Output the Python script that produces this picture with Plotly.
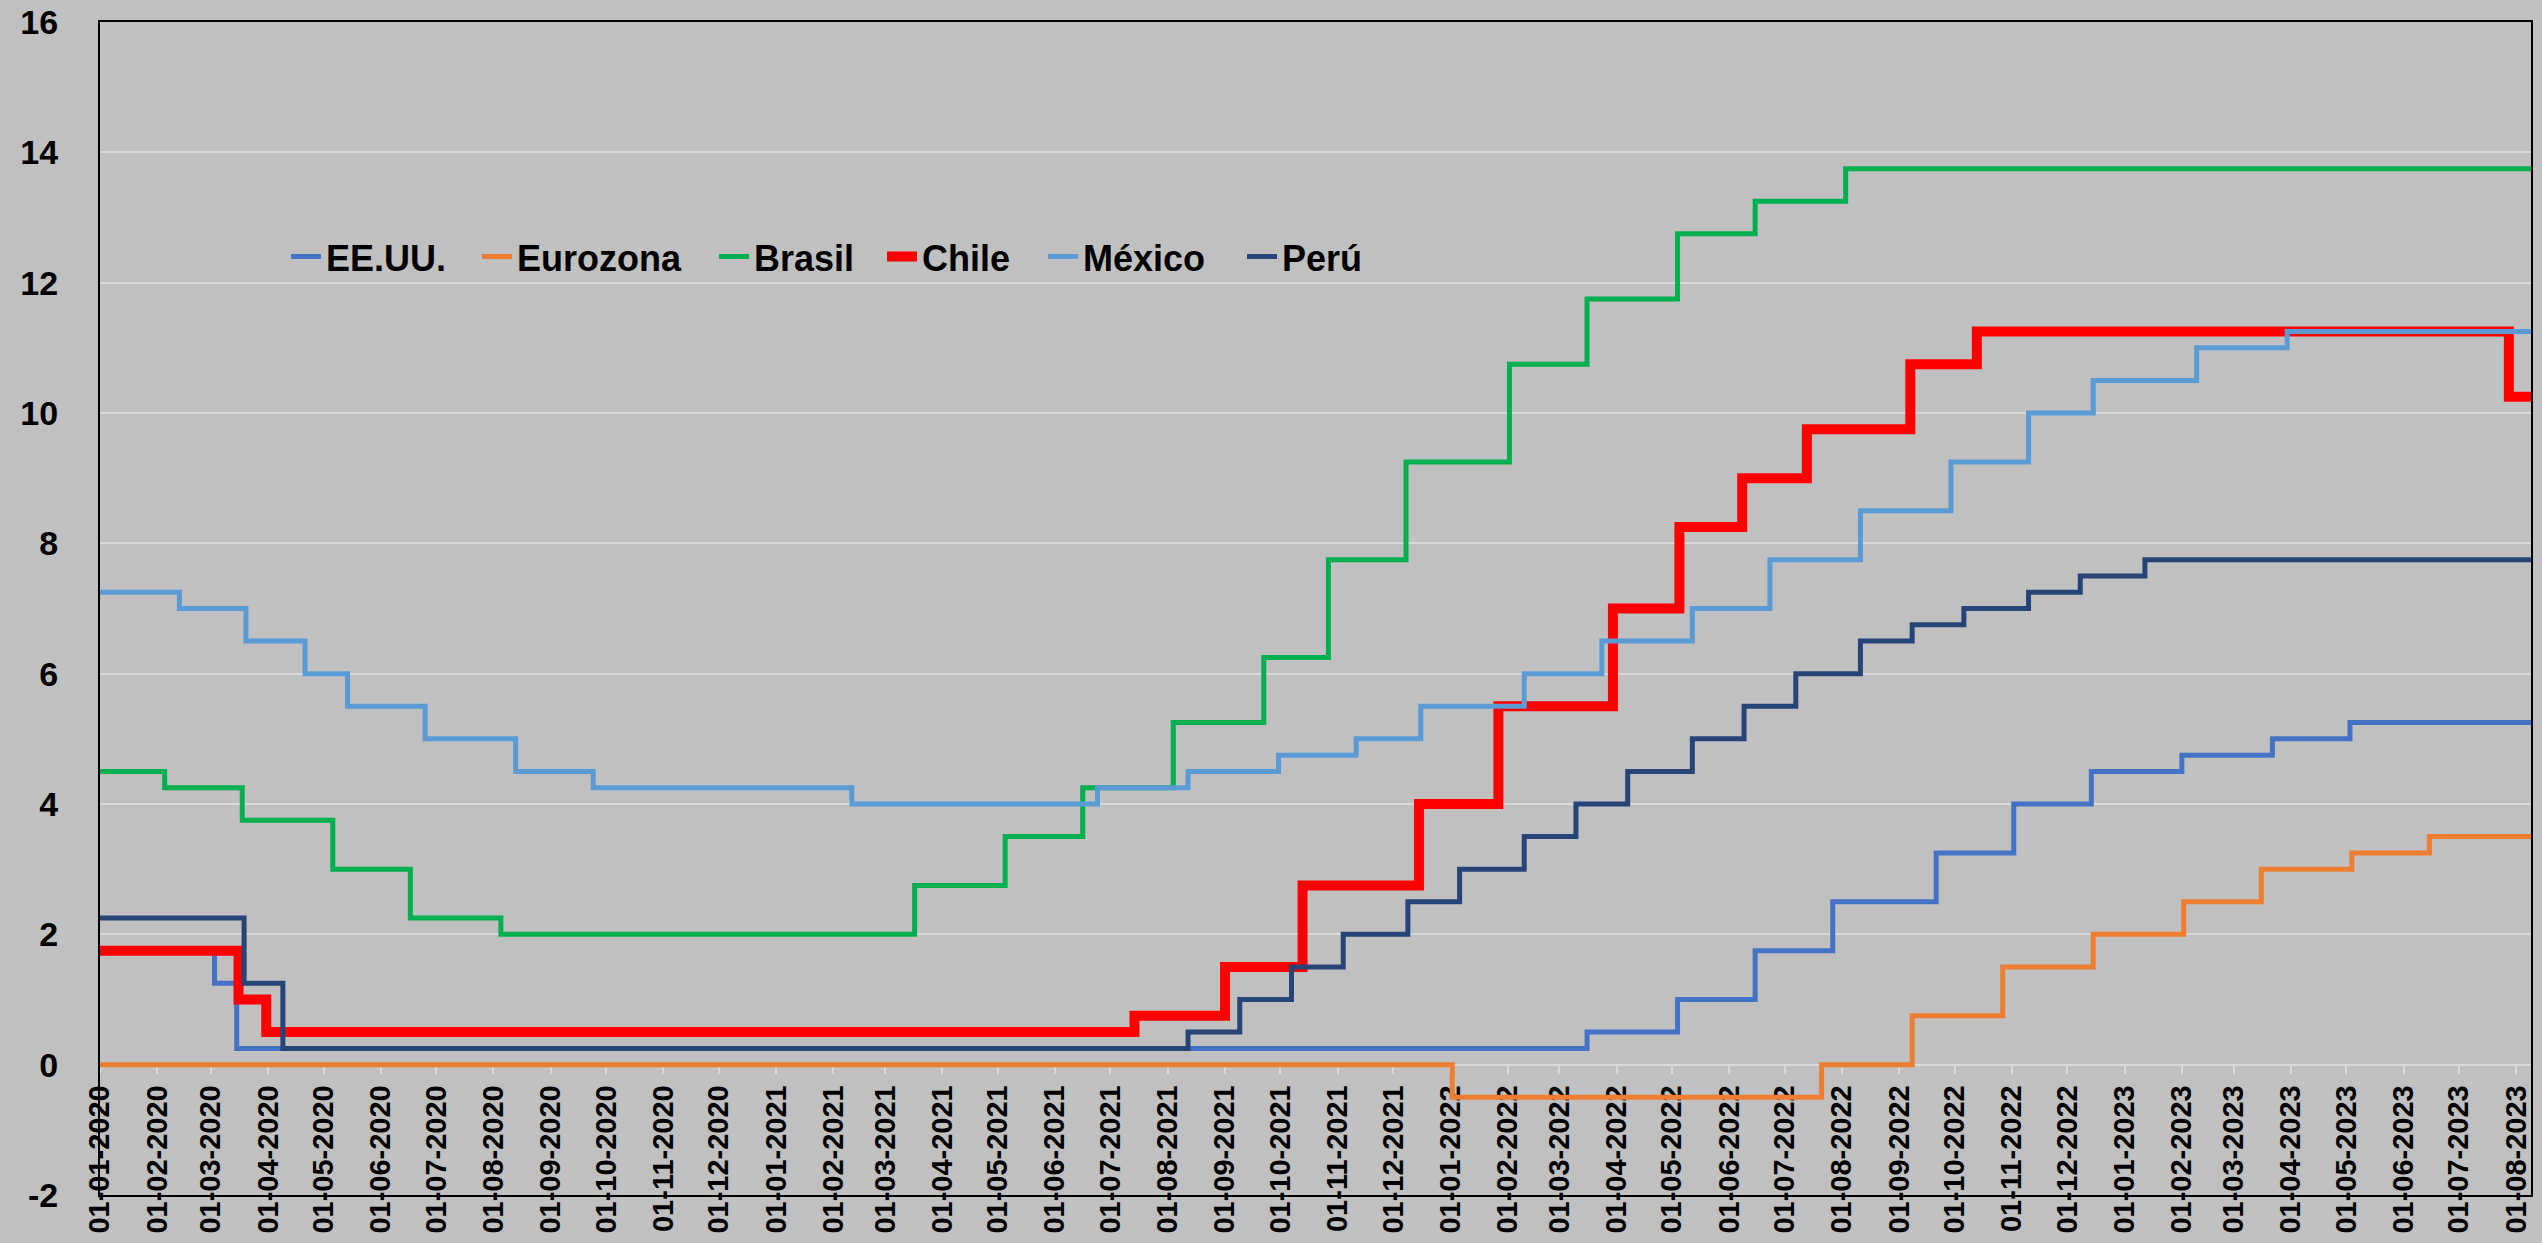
import plotly.graph_objects as go

START = "2020-01-01"
END = "2023-08-09"

us_dates = [START, "2020-03-03", "2020-03-15", "2022-03-16", "2022-05-04", "2022-06-15", "2022-07-27",
            "2022-09-21", "2022-11-02", "2022-12-14", "2023-02-01", "2023-03-22", "2023-05-03", END]
us_vals = [1.75, 1.25, 0.25, 0.5, 1.0, 1.75, 2.5, 3.25, 4.0, 4.5, 4.75, 5.0, 5.25, 5.25]

eu_dates = [START, "2022-01-02", "2022-07-21", "2022-09-08", "2022-10-27", "2022-12-15", "2023-02-02",
            "2023-03-16", "2023-05-04", "2023-06-15", END]
eu_vals = [0.0, -0.5, 0.0, 0.75, 1.5, 2.0, 2.5, 3.0, 3.25, 3.5, 3.5]

br_dates = [START, "2020-02-05", "2020-03-18", "2020-05-06", "2020-06-17", "2020-08-05", "2021-03-17",
            "2021-05-05", "2021-06-16", "2021-08-04", "2021-09-22", "2021-10-27", "2021-12-08",
            "2022-02-02", "2022-03-16", "2022-05-04", "2022-06-15", "2022-08-03", END]
br_vals = [4.5, 4.25, 3.75, 3.0, 2.25, 2.0, 2.75, 3.5, 4.25, 5.25, 6.25, 7.75, 9.25,
           10.75, 11.75, 12.75, 13.25, 13.75, 13.75]

cl_dates = [START, "2020-03-16", "2020-03-31", "2021-07-14", "2021-09-01", "2021-10-13", "2021-12-15",
            "2022-01-27", "2022-03-30", "2022-05-05", "2022-06-08", "2022-07-13", "2022-09-07",
            "2022-10-13", "2023-07-28", END]
cl_vals = [1.75, 1.0, 0.5, 0.75, 1.5, 2.75, 4.0, 5.5, 7.0, 8.25, 9.0, 9.75, 10.75, 11.25, 10.25, 10.25]

mx_dates = [START, "2020-02-13", "2020-03-20", "2020-04-21", "2020-05-14", "2020-06-25", "2020-08-13",
            "2020-09-24", "2021-02-11", "2021-06-24", "2021-08-12", "2021-09-30", "2021-11-11",
            "2021-12-16", "2022-02-10", "2022-03-24", "2022-05-12", "2022-06-23", "2022-08-11",
            "2022-09-29", "2022-11-10", "2022-12-15", "2023-02-09", "2023-03-30", END]
mx_vals = [7.25, 7.0, 6.5, 6.0, 5.5, 5.0, 4.5, 4.25, 4.0, 4.25, 4.5, 4.75, 5.0, 5.5, 6.0, 6.5,
           7.0, 7.75, 8.5, 9.25, 10.0, 10.5, 11.0, 11.25, 11.25]

pe_dates = [START, "2020-03-19", "2020-04-09", "2021-08-12", "2021-09-09", "2021-10-07", "2021-11-04",
            "2021-12-09", "2022-01-06", "2022-02-10", "2022-03-10", "2022-04-07", "2022-05-12",
            "2022-06-09", "2022-07-07", "2022-08-11", "2022-09-08", "2022-10-06", "2022-11-10",
            "2022-12-08", "2023-01-12", END]
pe_vals = [2.25, 1.25, 0.25, 0.5, 1.0, 1.5, 2.0, 2.5, 3.0, 3.5, 4.0, 4.5, 5.0, 5.5, 6.0, 6.5,
           6.75, 7.0, 7.25, 7.5, 7.75, 7.75]

series_names = ["EE.UU.", "Eurozona", "Brasil", "Chile", "México", "Perú"]
series_dates = [us_dates, eu_dates, br_dates, cl_dates, mx_dates, pe_dates]
series_vals = [us_vals, eu_vals, br_vals, cl_vals, mx_vals, pe_vals]
colors = ["#4472C4", "#ED7D31", "#00B050", "#FF0000", "#5B9BD5", "#264478"]
widths = [5, 5, 5, 10, 5, 5]
# legend text start positions (px)
legend_text_px = [326, 517, 754, 922, 1083, 1282]

y_tick_vals = [-2, 0, 2, 4, 6, 8, 10, 12, 14, 16]
y_tick_text = ["-2", "0", "2", "4", "6", "8", "10", "12", "14", "16"]

tick_dates = []
for y in range(2020, 2024):
    for m in range(1, 13):
        if (y, m) <= (2023, 8):
            tick_dates.append(f"{y}-{m:02d}-01")

W, H = 2542, 1243
ML, MR, MT, MB = 100, 11, 22, 48
PW = W - ML - MR

fig = go.Figure()
legend_layouts = {}
for i, (name, d, v, c, w) in enumerate(zip(series_names, series_dates, series_vals, colors, widths)):
    lname = "legend" if i == 0 else f"legend{i + 1}"
    fig.add_trace(go.Scatter(x=d, y=v, name=name, mode="lines", legend=lname,
                             line=dict(color=c, width=w, shape="hv")))
    legend_layouts[lname] = dict(
        orientation="h", x=(legend_text_px[i] - 40 - ML) / PW, y=0.80,
        xanchor="left", yanchor="middle", bgcolor="rgba(0,0,0,0)",
        font=dict(size=36, family="Liberation Sans", weight="bold", color="black"))

BG = "#C0C0C0"
GRID = "#D9D9D9"
fig.update_layout(
    width=W, height=H,
    paper_bgcolor=BG, plot_bgcolor=BG,
    margin=dict(l=ML, r=MR, t=MT, b=MB, autoexpand=False),
    font=dict(family="Liberation Sans", color="black", weight="bold"),
    showlegend=True,
    xaxis=dict(type="date", range=[START, END], showgrid=False, showticklabels=False,
               ticks="", showline=True, linecolor="black", linewidth=2, mirror=True,
               zeroline=False, automargin=False),
    xaxis2=dict(type="date", range=[START, END], overlaying="x", anchor="free",
                position=2 / 18, side="bottom", showgrid=False, tickmode="array",
                tickvals=tick_dates, tickformat="%d-%m-%Y", tickangle=-90,
                ticks="outside", ticklen=8, tickwidth=2, tickcolor=GRID,
                showline=True, linecolor=GRID, linewidth=2, layer="below traces",
                automargin=False,
                tickfont=dict(size=29, family="Liberation Sans", weight="bold", color="black"),
                zeroline=False),
    yaxis=dict(range=[-2, 16], tickmode="array", tickvals=y_tick_vals, ticktext=y_tick_text,
               showgrid=True, gridcolor=GRID, gridwidth=2,
               showline=True, linecolor="black", linewidth=2, mirror=True, zeroline=False,
               ticks="", ticklabelstandoff=33, automargin=False,
               tickfont=dict(size=34, family="Liberation Sans", weight="bold", color="black")),
)
fig.update_layout(**legend_layouts)
fig.add_trace(go.Scatter(x=[START, END], y=[None, None], xaxis="x2", showlegend=False,
                         hoverinfo="skip", mode="lines"))

fig.write_html("out.html",
               config={"displayModeBar": False},
               post_script="document.body.style.margin='0';"
                           "document.body.style.overflow='hidden';"
                           "document.body.style.background='#C0C0C0';")
